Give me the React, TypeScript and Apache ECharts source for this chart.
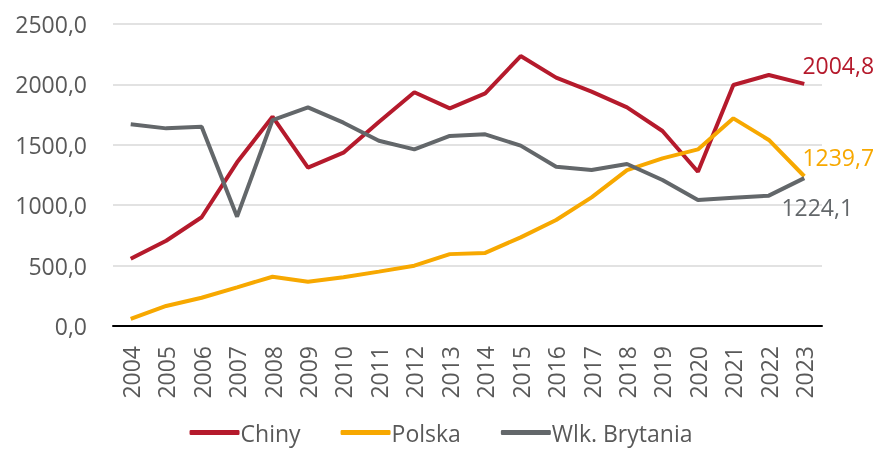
import React, { useEffect, useRef } from "react";
import * as echarts from "echarts";

const years = ["2004","2005","2006","2007","2008","2009","2010","2011","2012","2013","2014","2015","2016","2017","2018","2019","2020","2021","2022","2023"];
const chiny = [557, 706, 900, 1355, 1733, 1311, 1435, 1689, 1935, 1802, 1925, 2235, 2056, 1940, 1810, 1614, 1277, 1995, 2078, 2004.8];
const polska = [58, 166, 234, 320, 408, 367, 403, 450, 499, 595, 605, 734, 877, 1065, 1291, 1388, 1462, 1719, 1540, 1239.7];
const wlkBrytania = [1670, 1636, 1650, 905, 1705, 1810, 1683, 1534, 1462, 1573, 1587, 1493, 1319, 1291, 1341, 1209, 1043, 1062, 1079, 1224.1];
const yTicks = { min: 0, max: 2500, interval: 500 };

const FONT = "Open Sans";
const FS = 23;
const fmt = (v: number) => v.toFixed(1).replace(".", ",");

function withLastLabel(values: number[], color: string, position: string, offset: number[]) {
  return values.map((v, i) =>
    i === values.length - 1
      ? {
          value: v,
          label: {
            show: true,
            position,
            offset,
            color,
            fontFamily: FONT,
            fontSize: FS,
            formatter: (p: any) => fmt(p.value),
          },
        }
      : v
  );
}

export default function App() {
  const ref = useRef<HTMLDivElement>(null);
  useEffect(() => {
    if (!ref.current) return;
    const chart = echarts.init(ref.current, undefined, { renderer: "svg" });
    const red = "#B51A2C";
    const orange = "#F7A800";
    const grey = "#63676A";
    const common = { type: "line", symbol: "circle", symbolSize: 0, showSymbol: true };
    chart.setOption({
      animation: false,
      grid: { left: 113, right: 60, top: 24, bottom: 123 },
      legend: {
        top: 420,
        left: "center",
        padding: 0,
        icon: "roundRect",
        itemWidth: 50,
        itemHeight: 5,
        itemGap: 40,
        textStyle: { fontFamily: FONT, fontSize: FS, lineHeight: 25, color: "#595959", padding: [0, 0, 0, -4] },
        data: ["Chiny", "Polska", "Wlk. Brytania"],
      },
      xAxis: {
        type: "category",
        data: years,
        boundaryGap: true,
        axisLine: { lineStyle: { color: "#000", width: 2 } },
        axisTick: { show: false },
        axisLabel: { rotate: 90, margin: 20, fontFamily: FONT, fontSize: FS, color: "#595959", interval: 0 },
      },
      yAxis: {
        type: "value",
        min: yTicks.min,
        max: yTicks.max,
        interval: yTicks.interval,
        axisLine: { show: false },
        axisTick: { show: false },
        splitLine: { lineStyle: { color: "#D9D9D9", width: 1.5 } },
        axisLabel: { margin: 26, fontFamily: FONT, fontSize: FS, color: "#595959", formatter: (v: number) => fmt(v) },
      },
      series: [
        {
          ...common, name: "Chiny",
          lineStyle: { color: red, width: 4 }, itemStyle: { color: red },
          data: withLastLabel(chiny, red, "top", [34, -2]),
        },
        {
          ...common, name: "Polska",
          lineStyle: { color: orange, width: 4 }, itemStyle: { color: orange },
          data: withLastLabel(polska, orange, "top", [34, -3]),
        },
        {
          ...common, name: "Wlk. Brytania",
          lineStyle: { color: grey, width: 4 }, itemStyle: { color: grey },
          data: withLastLabel(wlkBrytania, grey, "bottom", [13, 12]),
        },
      ],
    });
    return () => chart.dispose();
  }, []);
  return <div ref={ref} style={{ position: "fixed", left: 0, top: 0, width: 882, height: 449 }} />;
}
